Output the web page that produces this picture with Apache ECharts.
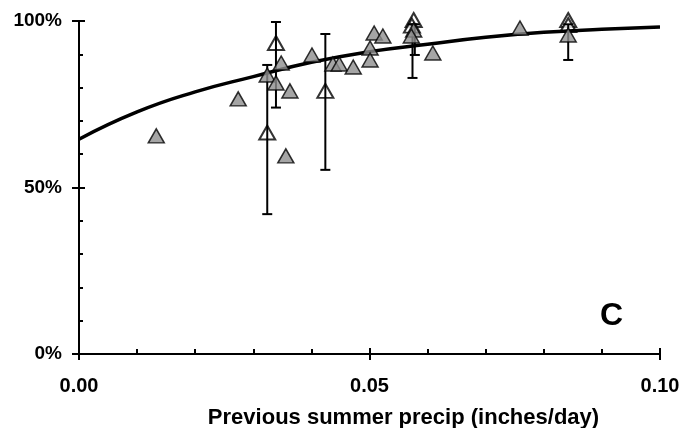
<!DOCTYPE html>
<html>
<head>
<meta charset="utf-8">
<script src="https://cdn.jsdelivr.net/npm/echarts@6/dist/echarts.min.js"></script>
<style>
html,body{margin:0;padding:0;background:#fff;}
#c{width:680px;height:428px;}
</style>
</head>
<body>
<div id="c"></div>
<script>
// ---- data ----
var filledX = [0.0133, 0.0274, 0.0324, 0.0348, 0.0339, 0.0363, 0.0356, 0.0401, 0.0437, 0.0448, 0.0472, 0.0501, 0.0501, 0.0508, 0.0523, 0.0576, 0.0572, 0.0609, 0.0759, 0.0842];
var filledY = [65.5, 76.6, 83.8, 87.4, 81.4, 79.0, 59.5, 89.8, 87.1, 87.1, 86.2, 91.9, 88.3, 96.4, 95.5, 97.3, 95.5, 90.4, 97.9, 95.8];
var openX = [0.0324, 0.0339, 0.0424, 0.0576, 0.0573, 0.0842, 0.0842];
var openY = [66.5, 93.4, 79.0, 100.3, 98.6, 100.3, 98.8];
var errX = [0.0324, 0.0339, 0.0424, 0.0574, 0.0578, 0.0842];
var errLow = [42.0, 74.0, 55.3, 82.9, 89.8, 88.3];
var errHigh = [86.8, 99.7, 96.1, 99.0, 99.0, 99.0];
var curveX = [0, 0.01, 0.02, 0.03, 0.04, 0.05, 0.06, 0.07, 0.08, 0.09, 0.10];
var curveY = [64.5, 72.7, 78.7, 83.3, 87.6, 90.8, 93.0, 95.1, 96.6, 97.5, 98.2];
var xTicks = [0, 0.05, 0.10];
var yTicks = [0, 50, 100];

function zip(a, b) { return a.map(function (v, i) { return [v, b[i]]; }); }
var errData = errX.map(function (v, i) { return [v, errLow[i], errHigh[i]]; });

var chart = echarts.init(document.getElementById('c'), null, {renderer: 'canvas'});
var FONT = '"Liberation Sans", Arial, sans-serif';
var lineStyle = {color: '#000', width: 2};

chart.setOption({
  animation: false,
  backgroundColor: '#fff',
  grid: {left: 79, right: 20, top: 21, bottom: 74, containLabel: false, outerBoundsMode: 'none'},
  xAxis: [{
    type: 'value', min: 0, max: 0.1, interval: 0.05,
    axisLine: {show: true, lineStyle: lineStyle},
    axisTick: {show: true, inside: true, length: 6, lineStyle: lineStyle},
    minorTick: {show: true, splitNumber: 5, length: 5, lineStyle: {color: '#000', width: 2}},
    splitLine: {show: false},
    axisLabel: {
      show: true, margin: 22, color: '#000', fontFamily: FONT, fontWeight: 'bold', fontSize: 20,
      formatter: function (v) { return v.toFixed(2); }
    },
    name: 'Previous summer precip (inches/day)',
    nameLocation: 'middle', nameGap: 53,
    nameTextStyle: {color: '#000', fontFamily: FONT, fontWeight: 'bold', fontSize: 22, padding: [0, 0, 0, 68]}
  }, {
    type: 'value', min: 0, max: 0.1, interval: 0.05, position: 'bottom',
    axisLine: {show: false},
    axisTick: {show: true, inside: false, length: 6, lineStyle: lineStyle},
    axisLabel: {show: false}, splitLine: {show: false}
  }],
  yAxis: [{
    type: 'value', min: 0, max: 100, interval: 50,
    axisLine: {show: true, lineStyle: lineStyle},
    axisTick: {show: true, inside: true, length: 6, lineStyle: lineStyle},
    minorTick: {show: true, splitNumber: 5, length: 4, lineStyle: {color: '#000', width: 2}},
    splitLine: {show: false},
    axisLabel: {
      show: true, margin: 17, color: '#000', fontFamily: FONT, fontWeight: 'bold', fontSize: 19,
      formatter: function (v) { return v + '%'; }
    }
  }, {
    type: 'value', min: 0, max: 100, interval: 50, position: 'left',
    axisLine: {show: false},
    axisTick: {show: true, inside: false, length: 7, lineStyle: lineStyle},
    axisLabel: {show: false}, splitLine: {show: false}
  }],
  series: [
    {
      type: 'scatter', name: 'open', z: 3, clip: false,
      symbol: 'triangle', symbolSize: [16, 14],
      itemStyle: {color: '#fff', borderColor: '#000', borderWidth: 2},
      data: zip(openX, openY)
    },
    {
      type: 'custom', name: 'err', z: 4, clip: false,
      renderItem: function (params, api) {
        var x = api.value(0);
        var p1 = api.coord([x, api.value(1)]);
        var p2 = api.coord([x, api.value(2)]);
        var hw = 5;
        var st = {stroke: '#000', lineWidth: 2};
        return {
          type: 'group',
          children: [
            {type: 'line', shape: {x1: p1[0], y1: p1[1], x2: p2[0], y2: p2[1]}, style: st},
            {type: 'line', shape: {x1: p1[0] - hw, y1: p1[1], x2: p1[0] + hw, y2: p1[1]}, style: st},
            {type: 'line', shape: {x1: p2[0] - hw, y1: p2[1], x2: p2[0] + hw, y2: p2[1]}, style: st}
          ]
        };
      },
      data: errData
    },
    {
      type: 'line', name: 'fit', z: 5, smooth: true, symbol: 'none',
      lineStyle: {color: '#000', width: 3.5},
      data: zip(curveX, curveY)
    },
    {
      type: 'scatter', name: 'filled', z: 6, clip: false,
      symbol: 'triangle', symbolSize: [16, 14],
      itemStyle: {color: '#8e8e8e', borderColor: '#000', borderWidth: 1.5},
      data: zip(filledX, filledY)
    }
  ],
  graphic: [{
    type: 'text', left: 600, top: 300,
    style: {text: 'C', fill: '#000', font: 'bold 32px ' + FONT}
  }]
});
</script>
</body>
</html>
